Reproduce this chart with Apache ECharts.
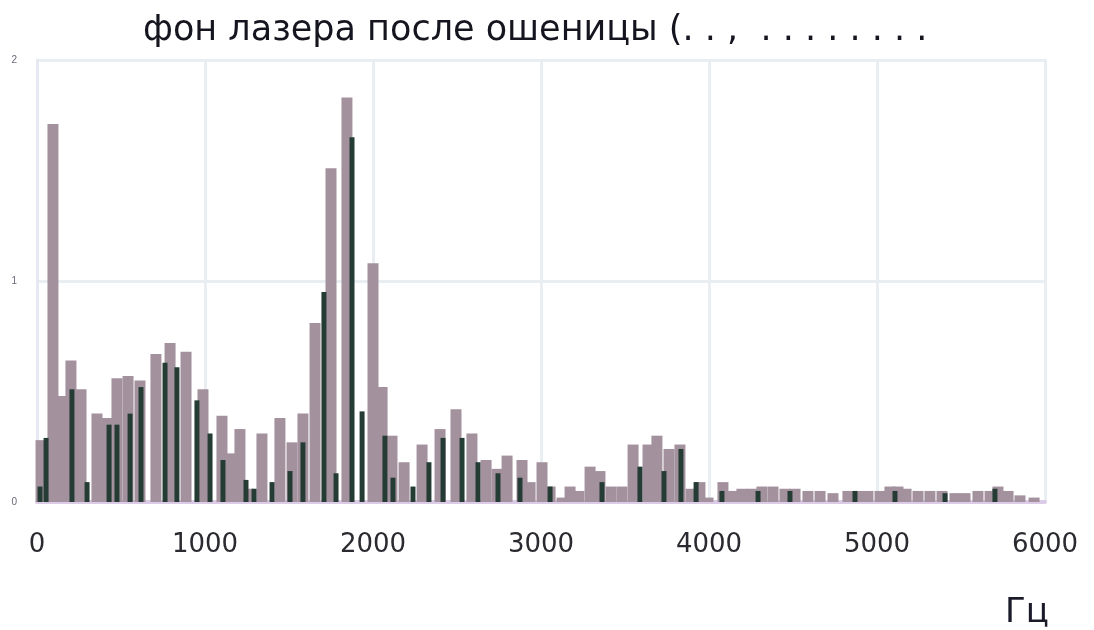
<!DOCTYPE html>
<html>
<head>
<meta charset="utf-8">
<script src="https://cdn.jsdelivr.net/npm/echarts@6/dist/echarts.min.js"></script>
<style>
    html, body { margin: 0; padding: 0; background: #fff; }
    #chart { width: 1094px; height: 630px; }
</style>
</head>
<body>
<div id="chart"></div>
<script>
    // light (grey) bars: frequency, Hz / level
    var greyFreq = [24, 95, 149, 202, 262, 357, 417, 476, 542, 613, 708, 792, 887, 988, 1101, 1149, 1208, 1256, 1339,
        1446, 1518, 1583, 1655, 1750, 1845, 2000, 2054, 2113, 2185, 2292, 2399, 2494, 2589, 2673, 2738, 2798, 2887,
        2935, 3006, 3054, 3125, 3173, 3226, 3292, 3351, 3417, 3482, 3548, 3637, 3690, 3762, 3827, 3893, 3946, 3994,
        4083, 4143, 4196, 4256, 4315, 4381, 4452, 4512, 4589, 4661, 4738, 4827, 4887, 4946, 5018, 5077, 5125, 5173,
        5244, 5315, 5387, 5464, 5524, 5601, 5673, 5720, 5780, 5851, 5935];
    var greyLevel = [0.28, 1.71, 0.48, 0.64, 0.51, 0.40, 0.38, 0.56, 0.57, 0.55, 0.67, 0.72, 0.68, 0.51, 0.39, 0.22, 0.33,
        0.06, 0.31, 0.38, 0.27, 0.40, 0.81, 1.51, 1.83, 1.08, 0.52, 0.30, 0.18, 0.26, 0.33, 0.42, 0.31, 0.19, 0.15, 0.21,
        0.19, 0.09, 0.18, 0.07, 0.02, 0.07, 0.05, 0.16, 0.14, 0.07, 0.07, 0.26, 0.26, 0.30, 0.24, 0.26, 0.06, 0.09, 0.02,
        0.09, 0.05, 0.06, 0.06, 0.07, 0.07, 0.06, 0.06, 0.05, 0.05, 0.04, 0.05, 0.05, 0.05, 0.05, 0.07, 0.07, 0.06,
        0.05, 0.05, 0.05, 0.04, 0.04, 0.05, 0.05, 0.07, 0.05, 0.03, 0.02];

    // dark bars
    var darkFreq = [18, 54, 208, 298, 429, 476, 554, 619, 762, 833, 952, 1030, 1107, 1244, 1292, 1399, 1506, 1583, 1708,
        1780, 1875, 1935, 2071, 2119, 2238, 2333, 2417, 2530, 2625, 2744, 2875, 3054, 3363, 3589, 3732, 3833, 3923,
        4077, 4292, 4482, 4869, 5107, 5405, 5702];
    var darkLevel = [0.07, 0.29, 0.51, 0.09, 0.35, 0.35, 0.40, 0.52, 0.63, 0.61, 0.46, 0.31, 0.19, 0.10, 0.06, 0.09,
        0.14, 0.27, 0.95, 0.13, 1.65, 0.41, 0.30, 0.11, 0.07, 0.18, 0.29, 0.29, 0.18, 0.13, 0.11, 0.07, 0.09, 0.16,
        0.14, 0.24, 0.09, 0.05, 0.05, 0.05, 0.05, 0.05, 0.04, 0.06];

    var xTicks = [0, 1000, 2000, 3000, 4000, 5000, 6000];

    function pairs(xs, ys) {
        var out = [];
        for (var i = 0; i < xs.length; i++) {
            out.push([xs[i], ys[i]]);
        }
        return out;
    }

    var myChart = echarts.init(document.getElementById('chart'));
    var gridLine = { show: true, lineStyle: { color: '#e9eef2', width: 3 } };

    myChart.setOption({
        animation: false,
        title: [{
            text: 'фон лазера после ошеницы (. . ,  . . . . . . . .',
            left: 138,
            top: 8,
            textStyle: {
                fontFamily: 'DejaVu Sans, sans-serif',
                fontSize: 35,
                fontWeight: 'normal',
                color: '#15151f'
            }
        }, {
            text: 'Гц',
            left: 1000,
            top: 591,
            textStyle: {
                fontFamily: 'DejaVu Sans, sans-serif',
                fontSize: 34,
                fontWeight: 'normal',
                color: '#1a1a2a'
            }
        }],
        grid: {
            left: 37,
            right: 49,
            top: 60,
            bottom: 128,
            show: true,
            borderColor: '#dcd8ee',
            borderWidth: 2
        },
        xAxis: [{
            type: 'value',
            min: xTicks[0],
            max: xTicks[xTicks.length - 1],
            interval: 1000,
            axisLine: { show: true, onZero: false, lineStyle: { color: '#dccbe6', width: 4 } },
            axisTick: { show: false },
            splitLine: gridLine,
            axisLabel: {
                margin: 30,
                fontFamily: 'DejaVu Sans, sans-serif',
                fontSize: 26,
                color: '#2a2a30',
                formatter: function (v) { return xTicks.indexOf(v) >= 0 ? String(v) : ''; }
            }
        }, {
            type: 'value',
            min: xTicks[0],
            max: xTicks[xTicks.length - 1],
            show: false
        }],
        yAxis: {
            type: 'value',
            min: 0,
            max: 2,
            interval: 1,
            axisLine: { show: true, lineStyle: { color: '#e6e8f2', width: 3 } },
            axisTick: { show: false },
            splitLine: gridLine,
            axisLabel: {
                margin: 20,
                fontSize: 10,
                color: '#6a6878'
            }
        },
        series: [{
            name: 'grey',
            type: 'bar',
            xAxisIndex: 0,
            barWidth: 11,
            itemStyle: { color: '#a3929e' },
            data: pairs(greyFreq, greyLevel)
        }, {
            name: 'dark',
            type: 'bar',
            xAxisIndex: 1,
            barWidth: 5,
            itemStyle: { color: '#253c34' },
            data: pairs(darkFreq, darkLevel)
        }]
    });
</script>
</body>
</html>
